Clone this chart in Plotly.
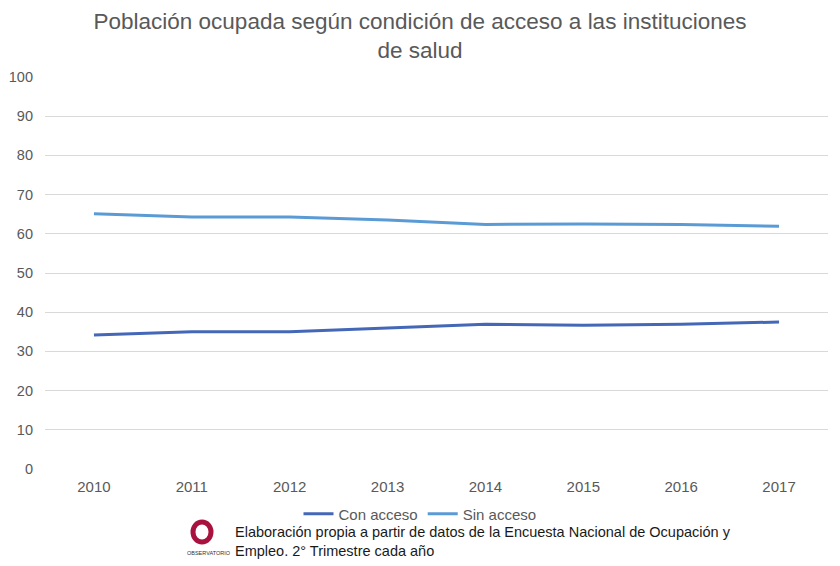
import plotly.graph_objects as go

years = ["2010", "2011", "2012", "2013", "2014", "2015", "2016", "2017"]
con_acceso = [34.2, 35.0, 35.0, 36.0, 36.9, 36.7, 36.9, 37.5]
sin_acceso = [65.1, 64.3, 64.3, 63.5, 62.4, 62.5, 62.4, 61.9]

# page body has an 8px margin; figure is sized/placed to compensate
W, H = 832, 558
L, T, R, B = 37, 69, 12, 97
PW, PH = W - L - R, H - T - B


def px(X):
    return (X - 8 - L) / PW


def py(Y):
    return -(Y - 8 - (T + PH)) / PH


fig = go.Figure()
fig.add_trace(go.Scatter(x=years, y=con_acceso, mode="lines", name="Con acceso",
                         line=dict(color="#4468b7", width=3)))
fig.add_trace(go.Scatter(x=years, y=sin_acceso, mode="lines", name="Sin acceso",
                         line=dict(color="#5b9bd5", width=3)))

fig.update_layout(
    width=W, height=H,
    margin=dict(l=L, r=R, t=T, b=B, autoexpand=False),
    paper_bgcolor="white", plot_bgcolor="white",
    font=dict(family="Liberation Sans, Arial", color="#595959", size=14),
    title=dict(text="Población ocupada según condición de acceso a las instituciones<br>de salud",
               x=(420 - 8) / W, xanchor="center", xref="container", yref="container",
               y=1 - (29 - 8) / H, yanchor="middle",
               font=dict(size=22.5, color="#595959")),
    showlegend=True,
    legend=dict(orientation="h", x=px(420), xanchor="center", y=py(514), yanchor="middle",
                font=dict(size=15, color="#595959"), bgcolor="rgba(0,0,0,0)",
                itemwidth=30, tracegroupgap=0),
    xaxis=dict(type="category", showgrid=False, zeroline=False, showline=False,
               ticks="", tickfont=dict(size=15, color="#595959"),
               range=[-0.5, 7.5], automargin=False, ticklabelstandoff=7),
    yaxis=dict(range=[0, 100], dtick=10, showgrid=True, gridcolor="#d9d9d9",
               gridwidth=1, zeroline=False, showline=False, ticks="",
               tickfont=dict(size=14.5, color="#595959"), ticklabelstandoff=11,
               automargin=False),
)

# footnote
fig.add_annotation(text="Elaboración propia a partir de datos de la Encuesta Nacional de Ocupación y<br>Empleo. 2° Trimestre cada año",
                   xref="paper", yref="paper", x=px(233), y=py(541),
                   xanchor="left", yanchor="middle", align="left", showarrow=False,
                   font=dict(size=14.5, color="#1a1a1a"))
# logo
fig.add_shape(type="circle", xref="paper", yref="paper",
              x0=px(193), x1=px(211), y0=py(542), y1=py(522),
              line=dict(color="#a8123e", width=5))
fig.add_annotation(text="OBSERVATORIO", xref="paper", yref="paper",
                   x=px(209), y=py(553), xanchor="center", yanchor="middle",
                   showarrow=False, font=dict(size=5.5, color="#333333"))

fig.write_html("out.html")
